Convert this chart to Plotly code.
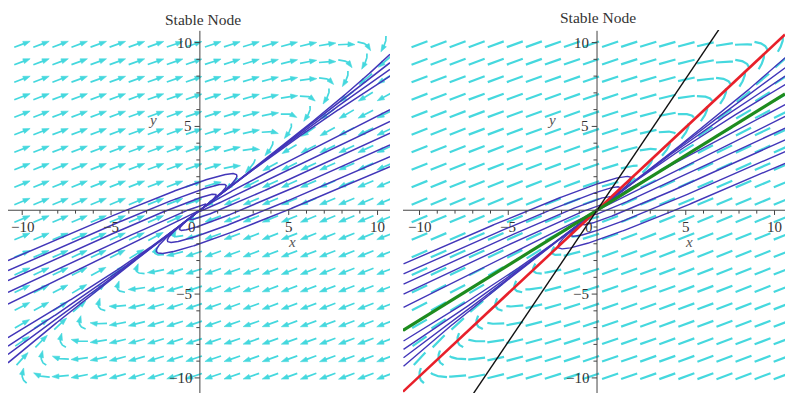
import numpy as np
import plotly.graph_objects as go

# ---------------- data ----------------
# linear system  x' = a11 x + a12 y ,  y' = a21 x + a22 y
A_row1 = [-2.127, 2.167]
A_row2 = [-0.924, 0.777]

# direction-field grid
field_x = list(np.linspace(-10.0, 10.4, 20))
field_y = list(np.linspace(-9.9, 9.9, 20))

# trajectories (initial points) – left panel
left_ic_x = [-10.8, -10.8, -10.8, -10.8, -10.8,
             10.7, 10.7, 10.7, 10.7, 10.7, 10.7,
             10.7, 10.7, 10.7, 10.7,
             -10.8, -10.8, -10.8, -10.8]
left_ic_y = [-3.0, -3.6, -4.2, -4.9, -5.6,
             6.0, 5.3, 4.6, 3.9, 3.2, 2.6,
             8.0, 8.4, 8.8, 9.3,
             -7.6, -8.1, -8.6, -9.1]

# trajectories (initial points) – right panel
right_ic_x = [-10.9, -10.9, -10.9, -10.9, -10.9,
              10.6, 10.6, 10.6, 10.6, 10.6, 10.6,
              10.6, 10.6, 10.6, 10.6,
              -10.9, -10.9, -10.9, -10.9]
right_ic_y = [-3.2, -3.8, -4.4, -5.0, -5.8,
              6.3, 5.6, 4.9, 4.2, 3.5, 2.8,
              7.5, 8.0, 8.5, 9.1,
              -7.8, -8.3, -8.8, -9.3]

# straight lines through the origin (right panel): slopes
line_names = ["red", "green", "black"]
line_slopes = [0.99, 0.655, 1.57]
line_colors = ["#e8202a", "#1e8c1e", "#111111"]
line_widths = [2.6, 3.2, 1.4]

tick_vals = [-10, -5, 5, 10]
tick_text = ["\u221210", "\u22125", "5", "10"]
title_text = "Stable Node"

# ---------------- geometry ----------------
W, H = 785, 393
XL = [-10.8, 10.7]
XR = [-10.93, 10.59]
YR = [-10.9, 10.75]
dom_l = [8 / W, 390 / W]
dom_r = [403 / W, 1.0]
dom_y = [0.0, (H - 30) / H]
SX = 17.76
SY = 16.8

A = np.array([A_row1, A_row2])


def f(p):
    return A @ p


def stream_piece(x0, y0, half_len, h=0.5):
    """short streamline (pixel-space arc length) centred at (x0,y0)"""
    def walk(sign):
        P = np.array([x0 * SX, y0 * SY])
        pts = []
        n = int(half_len / h)
        for _ in range(n):
            v = f(np.array([P[0] / SX, P[1] / SY]))
            d = np.array([v[0] * SX, v[1] * SY])
            nd = np.hypot(*d)
            if nd < 1e-9:
                break
            P = P + sign * h * d / nd
            pts.append(P.copy())
        return pts
    fw = walk(1)
    bw = walk(-1)
    return bw[::-1] + [np.array([x0 * SX, y0 * SY])] + fw


def arrows(head=True, L=16.0, hl=6.0, hw=4.5):
    sx_, sy_, hx, hy = [], [], [], []
    for x0 in field_x:
        for y0 in field_y:
            pts = stream_piece(x0, y0, L / 2)
            if len(pts) < 4:
                continue
            if head:
                ncut = int(hl / 0.5)
                shaft = pts[:-ncut + 2] if len(pts) > ncut else pts[:2]
                tip = pts[-1]
                base = pts[-ncut] if len(pts) > ncut else pts[0]
                d = tip - base
                d = d / (np.hypot(*d) + 1e-12)
                nrm = np.array([-d[1], d[0]])
                b = tip - hl * d
                tri = [tip, b + nrm * hw / 2, b - nrm * hw / 2, tip]
                for q in tri:
                    hx.append(q[0] / SX)
                    hy.append(q[1] / SY)
                hx.append(None)
                hy.append(None)
            else:
                shaft = pts
            for q in shaft:
                sx_.append(q[0] / SX)
                sy_.append(q[1] / SY)
            sx_.append(None)
            sy_.append(None)
    return sx_, sy_, hx, hy


def trajectory(x0, y0, T=40.0, dt=0.01):
    p = np.array([x0, y0], dtype=float)
    xs, ys = [p[0]], [p[1]]
    for _ in range(int(T / dt)):
        k1 = f(p)
        k2 = f(p + dt / 2 * k1)
        k3 = f(p + dt / 2 * k2)
        k4 = f(p + dt * k3)
        p = p + dt / 6 * (k1 + 2 * k2 + 2 * k3 + k4)
        xs.append(p[0])
        ys.append(p[1])
        if np.hypot(*p) < 0.02:
            break
    return xs, ys


fig = go.Figure()

CYAN = "#45d8de"
TRAJ = "rgb(66,54,185)"

# ---- left panel ----
ax, ay, hx, hy = arrows(head=True, L=17.0, hl=7.0, hw=5.0)
fig.add_trace(go.Scatter(x=ax, y=ay, mode="lines", line=dict(color=CYAN, width=1.7),
                         xaxis="x", yaxis="y", hoverinfo="skip", showlegend=False))
fig.add_trace(go.Scatter(x=hx, y=hy, mode="lines", fill="toself", fillcolor=CYAN,
                         line=dict(color=CYAN, width=0.6),
                         xaxis="x", yaxis="y", hoverinfo="skip", showlegend=False))
for x0, y0 in zip(left_ic_x, left_ic_y):
    tx, ty = trajectory(x0, y0)
    fig.add_trace(go.Scatter(x=tx, y=ty, mode="lines", line=dict(color=TRAJ, width=1.5),
                             xaxis="x", yaxis="y", hoverinfo="skip", showlegend=False))

# ---- right panel ----
ax2, ay2, _, _ = arrows(head=False, L=17.0)
fig.add_trace(go.Scatter(x=ax2, y=ay2, mode="lines", line=dict(color=CYAN, width=2.2),
                         xaxis="x2", yaxis="y2", hoverinfo="skip", showlegend=False))
for x0, y0 in zip(right_ic_x, right_ic_y):
    tx, ty = trajectory(x0, y0)
    fig.add_trace(go.Scatter(x=tx, y=ty, mode="lines", line=dict(color=TRAJ, width=1.4),
                             xaxis="x2", yaxis="y2", hoverinfo="skip", showlegend=False))
for name, s, c, w in zip(line_names, line_slopes, line_colors, line_widths):
    lx = [XR[0], XR[1]]
    ly = [s * XR[0], s * XR[1]]
    fig.add_trace(go.Scatter(x=lx, y=ly, mode="lines", line=dict(color=c, width=w),
                             xaxis="x2", yaxis="y2", name=name, hoverinfo="skip",
                             showlegend=False))

# ---- axes drawn through the origin ----
shapes = []
annotations = []
FONT = "Liberation Serif, Times New Roman, serif"
for xref, yref, xlab_x, ylab_x in [("x", "y", 5.2, -2.65), ("x2", "y2", 5.2, -2.55)]:
    xrng = XL if xref == "x" else XR
    shapes.append(dict(type="line", xref=xref, yref=yref, x0=xrng[0], x1=xrng[1], y0=0, y1=0,
                       line=dict(color="#444", width=1)))
    shapes.append(dict(type="line", xref=xref, yref=yref, x0=0, x1=0, y0=YR[0], y1=10.7,
                       line=dict(color="#444", width=1)))
    for k in range(-10, 11):
        if k == 0:
            continue
        big = (k % 5 == 0)
        tl = 0.28 if big else 0.2
        shapes.append(dict(type="line", xref=xref, yref=yref, x0=k, x1=k, y0=0, y1=-tl,
                           line=dict(color="#444", width=1)))
        tlx = 0.3 if big else 0.2
        shapes.append(dict(type="line", xref=xref, yref=yref, x0=0, x1=-tlx, y0=k, y1=k,
                           line=dict(color="#444", width=1)))
    for v, t in zip(tick_vals, tick_text):
        annotations.append(dict(x=v, y=-0.4, xref=xref, yref=yref, text=t, showarrow=False,
                                xanchor="center", yanchor="top",
                                font=dict(family=FONT, size=15, color="#333")))
        annotations.append(dict(x=-0.35, y=v, xref=xref, yref=yref, text=t, showarrow=False,
                                xanchor="right", yanchor="middle",
                                font=dict(family=FONT, size=15, color="#333")))
    annotations.append(dict(x=-0.45, y=-0.4, xref=xref, yref=yref, text="0", showarrow=False,
                            xanchor="center", yanchor="top",
                            font=dict(family=FONT, size=15, color="#333")))
    annotations.append(dict(x=xlab_x, y=-1.9, xref=xref, yref=yref, text="<i>x</i>",
                            showarrow=False, xanchor="center", yanchor="middle",
                            font=dict(family=FONT, size=15, color="#555")))
    annotations.append(dict(x=ylab_x, y=5.4, xref=xref, yref=yref, text="<i>y</i>",
                            showarrow=False, xanchor="center", yanchor="middle",
                            font=dict(family=FONT, size=15, color="#555")))

annotations.append(dict(x=203 / W, y=1 - 19 / H, xref="paper", yref="paper", text=title_text,
                        showarrow=False, xanchor="center", yanchor="middle",
                        font=dict(family=FONT, size=15.5, color="#333")))
annotations.append(dict(x=598 / W, y=1 - 17 / H, xref="paper", yref="paper", text=title_text,
                        showarrow=False, xanchor="center", yanchor="middle",
                        font=dict(family=FONT, size=15.5, color="#333")))

ax_common = dict(visible=False, showgrid=False, zeroline=False, fixedrange=True)
fig.update_layout(
    width=W, height=H,
    margin=dict(l=0, r=0, t=0, b=0),
    paper_bgcolor="white", plot_bgcolor="white",
    showlegend=False,
    xaxis=dict(range=XL, domain=dom_l, **ax_common),
    yaxis=dict(range=YR, domain=dom_y, **ax_common),
    xaxis2=dict(range=XR, domain=dom_r, anchor="y2", **ax_common),
    yaxis2=dict(range=YR, domain=dom_y, anchor="x2", **ax_common),
    shapes=shapes,
    annotations=annotations,
)

fig.write_html("out.html")
